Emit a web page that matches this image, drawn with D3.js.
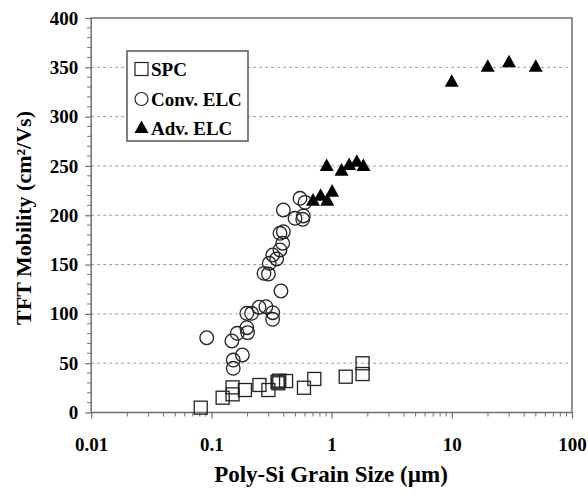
<!DOCTYPE html>
<html>
<head>
<meta charset="utf-8">
<script src="https://cdn.jsdelivr.net/npm/d3@7"></script>
<style>
  body { margin: 0; background: #fff; }
  svg { display: block; }
  text { font-family: "Liberation Serif", "Times New Roman", serif; font-weight: bold; fill: #000; }
</style>
</head>
<body>
<svg id="chart" width="588" height="494"></svg>
<script>
// ---- Data (grain size in µm, mobility in cm²/Vs) ----
const spcX = [0.0815, 0.124, 0.150, 0.150, 0.190, 0.251, 0.298, 0.355, 0.360, 0.367, 0.418, 0.589, 0.718, 1.31, 1.81, 1.81];
const spcY = [4.9, 15, 25.5, 18.4, 22.8, 27.9, 22.8, 31.2, 29.6, 32.3, 31.9, 25.1, 34, 36.3, 39, 49.9];

const convX = [0.0914, 0.148, 0.164, 0.200, 0.197, 0.152, 0.181, 0.152, 0.197, 0.216, 0.249, 0.284, 0.324, 0.323, 0.379,
               0.274, 0.298, 0.303, 0.324, 0.349, 0.372, 0.392, 0.397, 0.372, 0.397, 0.496, 0.575, 0.582, 0.546, 0.601];
const convY = [75.8, 72.5, 80.3, 81, 86, 53.2, 58.3, 44.8, 100.6, 100.6, 106.7, 107.3, 101.2, 94.5, 123.2,
               141.1, 140.4, 151.3, 159.7, 155.7, 164.8, 171.6, 183.3, 181.7, 205.3, 196.9, 195.9, 199.3, 217.2, 213.1];

const advX = [0.70, 0.81, 0.92, 1.01, 0.91, 1.21, 1.40, 1.62, 1.84, 9.98, 19.9, 29.9, 49.9];
const advY = [214.8, 219.8, 214.8, 223.9, 250, 245.2, 251, 254.3, 250, 335.4, 350.6, 355.1, 350.6];

const xTickValues = [0.01, 0.1, 1, 10, 100];
const xTickLabels = ["0.01", "0.1", "1", "10", "100"];
const yTickValues = [0, 50, 100, 150, 200, 250, 300, 350, 400];

const legendLabels = ["SPC", "Conv. ELC", "Adv. ELC"];
const xTitle = "Poly-Si Grain Size (\u00b5m)";
const yTitle = "TFT Mobility (cm\u00b2/Vs)";

// ---- Layout ----
const L = 91.2, R = 572, T = 18, B = 412.5;
const svg = d3.select("#chart");
const x = d3.scaleLog().domain([0.01, 100]).range([L, R]);
const y = d3.scaleLinear().domain([0, 400]).range([B, T]);

const axisColor = "#6e6e6e";

// gridlines
svg.append("g").selectAll("line")
  .data(yTickValues.filter(v => v > 0 && v < 400))
  .join("line")
  .attr("x1", L).attr("x2", R)
  .attr("y1", d => y(d)).attr("y2", d => y(d))
  .attr("stroke", "#9a9a9a").attr("stroke-width", 1)
  .attr("stroke-dasharray", "3,3");

// frame
svg.append("rect")
  .attr("x", L).attr("y", T).attr("width", R - L).attr("height", B - T)
  .attr("fill", "none").attr("stroke", axisColor).attr("stroke-width", 1.5);

// y axis
const yMinor = d3.range(0, 401, 10);
const yAxis = d3.axisLeft(y).tickValues(yTickValues).tickSize(6).tickPadding(7).tickFormat(d3.format("d"));
const yg = svg.append("g").attr("transform", `translate(${L},0)`).call(yAxis);
yg.select(".domain").remove();
yg.selectAll("line").attr("stroke", axisColor).attr("stroke-width", 1.2);
yg.selectAll("text").attr("font-size", 19).attr("font-family", "Liberation Serif, Times New Roman, serif").attr("font-weight", "bold").attr("fill", "#000");
svg.append("g").selectAll("line")
  .data(yMinor.filter(v => v % 50 !== 0))
  .join("line")
  .attr("x1", L - 4).attr("x2", L)
  .attr("y1", d => y(d)).attr("y2", d => y(d))
  .attr("stroke", axisColor).attr("stroke-width", 1);

// x axis
const xAxis = d3.axisBottom(x).tickValues(xTickValues).tickSize(6).tickPadding(19)
  .tickFormat((d, i) => xTickLabels[i]);
const xg = svg.append("g").attr("transform", `translate(0,${B})`).call(xAxis);
xg.select(".domain").remove();
xg.selectAll("line").attr("stroke", axisColor).attr("stroke-width", 1.2);
xg.selectAll("text").attr("font-size", 19).attr("font-family", "Liberation Serif, Times New Roman, serif").attr("font-weight", "bold").attr("fill", "#000");
const xMinor = [];
[0.01, 0.1, 1, 10].forEach(dec => { for (let k = 2; k <= 9; k++) xMinor.push(dec * k); });
svg.append("g").selectAll("line")
  .data(xMinor)
  .join("line")
  .attr("x1", d => x(d)).attr("x2", d => x(d))
  .attr("y1", B).attr("y2", B + 4)
  .attr("stroke", axisColor).attr("stroke-width", 1);

// titles
svg.append("text")
  .attr("x", 331).attr("y", 482)
  .attr("text-anchor", "middle").attr("font-size", 23)
  .text(xTitle);
svg.append("text")
  .attr("transform", `translate(31,218) rotate(-90)`)
  .attr("text-anchor", "middle").attr("font-size", 22)
  .text(yTitle);

// symbols
const sqSize = 13;
const triPath = s => { const h = s * 0.9; return `M0,${-h * 0.6}L${s / 2},${h * 0.4}L${-s / 2},${h * 0.4}Z`; };

const plot = svg.append("g");
plot.selectAll("rect.spc")
  .data(spcX.map((v, i) => [v, spcY[i]]))
  .join("rect").attr("class", "spc")
  .attr("x", d => x(d[0]) - sqSize / 2).attr("y", d => y(d[1]) - sqSize / 2)
  .attr("width", sqSize).attr("height", sqSize)
  .attr("fill", "none").attr("stroke", "#222").attr("stroke-width", 1.3);

plot.selectAll("circle.conv")
  .data(convX.map((v, i) => [v, convY[i]]))
  .join("circle").attr("class", "conv")
  .attr("cx", d => x(d[0])).attr("cy", d => y(d[1])).attr("r", 6.8)
  .attr("fill", "none").attr("stroke", "#222").attr("stroke-width", 1.3);

plot.selectAll("path.adv")
  .data(advX.map((v, i) => [v, advY[i]]))
  .join("path").attr("class", "adv")
  .attr("transform", d => `translate(${x(d[0])},${y(d[1])})`)
  .attr("d", triPath(14))
  .attr("fill", "#000");

// legend
const lg = svg.append("g");
lg.append("rect").attr("x", 127).attr("y", 51).attr("width", 121).attr("height", 90)
  .attr("fill", "#fff").attr("stroke", "#555").attr("stroke-width", 1.5);
const ly = [69, 99, 128];
lg.append("rect").attr("x", 135).attr("y", ly[0] - 6.5).attr("width", 13).attr("height", 13)
  .attr("fill", "none").attr("stroke", "#222").attr("stroke-width", 1.2);
lg.append("circle").attr("cx", 141.5).attr("cy", ly[1]).attr("r", 6.5)
  .attr("fill", "none").attr("stroke", "#222").attr("stroke-width", 1.2);
lg.append("path").attr("transform", `translate(141.5,${ly[2]})`).attr("d", triPath(14)).attr("fill", "#000");
lg.selectAll("text.lab").data(legendLabels).join("text").attr("class", "lab")
  .attr("x", 151).attr("y", (d, i) => ly[i] + 6.5)
  .attr("font-size", 19)
  .text(d => d);
</script>
</body>
</html>
